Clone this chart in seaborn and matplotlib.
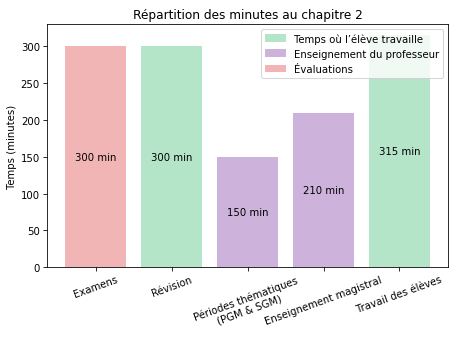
import matplotlib
matplotlib.use("Agg")
import matplotlib.pyplot as plt
import seaborn as sns
import pandas as pd

categories = ["Examens", "Révision", "Périodes thématiques\n(PGM & SGM)",
              "Enseignement magistral", "Travail des élèves"]
minutes = [300, 300, 150, 210, 315]
groups = ["Évaluations", "Temps où l’élève travaille", "Enseignement du professeur",
          "Enseignement du professeur", "Temps où l’élève travaille"]
hue_order = ["Temps où l’élève travaille", "Enseignement du professeur", "Évaluations"]
palette = {"Temps où l’élève travaille": "#b5e5c8",
           "Enseignement du professeur": "#cdb3dc",
           "Évaluations": "#f2b5b5"}

df = pd.DataFrame({"cat": categories, "min": minutes, "grp": groups})

DPI = 73
fig, ax = plt.subplots(figsize=(454 / DPI, 341 / DPI), dpi=DPI)
fig.subplots_adjust(left=0.1035, right=0.987, top=0.927, bottom=0.214)
sns.barplot(data=df, x="cat", y="min", hue="grp", hue_order=hue_order,
            palette=palette, dodge=False, saturation=1, ax=ax, width=0.8)
for i, v in enumerate(minutes):
    ax.text(i, v / 2, f"{v} min", ha="center", va="center", fontsize=10)
ax.set_xlim(-0.64, 4.64)
ax.set_ylim(0, 330.75)
ax.set_title("Répartition des minutes au chapitre 2")
ax.set_xlabel("")
ax.set_ylabel("Temps (minutes)")
plt.setp(ax.get_xticklabels(), rotation=20, ha="center")
ax.legend(loc="upper right", fontsize=10)
fig.savefig("out.png", dpi=DPI)
